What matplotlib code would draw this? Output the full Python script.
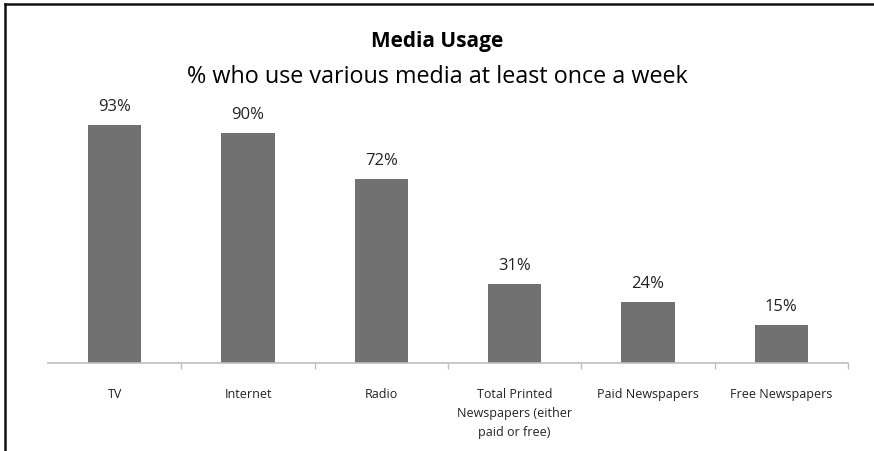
import matplotlib.pyplot as plt
from matplotlib.lines import Line2D

categories = ['TV', 'Internet', 'Radio',
              'Total Printed\nNewspapers (either\npaid or free)',
              'Paid Newspapers', 'Free Newspapers']
values = [93, 90, 72, 31, 24, 15]

plt.rcParams['font.family'] = ['Open Sans', 'DejaVu Sans']

fig = plt.figure(figsize=(8.74, 4.51), dpi=100)
ax = fig.add_axes([48 / 874, 1 - 363 / 451, 800 / 874, 256 / 451])

x = range(len(values))
ax.bar(x, values, width=0.4, color='#717171')
for i, v in enumerate(values):
    ax.annotate('%d%%' % v, (i, v), xytext=(0, 7), textcoords='offset points',
                ha='center', va='bottom', fontsize=12, color='#222222')

ax.set_xlim(-0.5, len(values) - 0.5)
ax.set_ylim(0, 100)
ax.set_yticks([])
ax.set_xticks([i - 0.5 for i in range(1, len(values) + 1)])
ax.set_xticklabels([])
ax.set_xticks(list(x), minor=True)
ax.set_xticklabels(categories, minor=True, fontsize=9, color='#222222',
                   va='top', linespacing=1.6)
ax.tick_params(axis='x', which='major', length=4, color='#bfbfbf', width=1)
ax.tick_params(axis='x', which='minor', length=0, pad=18)
for s in ['top', 'right', 'left']:
    ax.spines[s].set_visible(False)
ax.spines['bottom'].set_color('#bfbfbf')
ax.spines['bottom'].set_linewidth(1.2)

fig.text(0.5, 1 - 42 / 451, 'Media Usage', ha='center', va='center',
         fontsize=15, fontweight='bold')
fig.text(0.5, 1 - 77 / 451, '% who use various media at least once a week',
         ha='center', va='center', fontsize=16.8)

# frame lines along the left and top edges
fig.add_artist(Line2D([4.5 / 874, 4.5 / 874], [0, 1 - 4 / 451],
                      transform=fig.transFigure, color='#111111', lw=1.8))
fig.add_artist(Line2D([4.5 / 874, 1], [1 - 4 / 451, 1 - 4 / 451],
                      transform=fig.transFigure, color='#111111', lw=1.8))

fig.savefig('out.png', dpi=100)
